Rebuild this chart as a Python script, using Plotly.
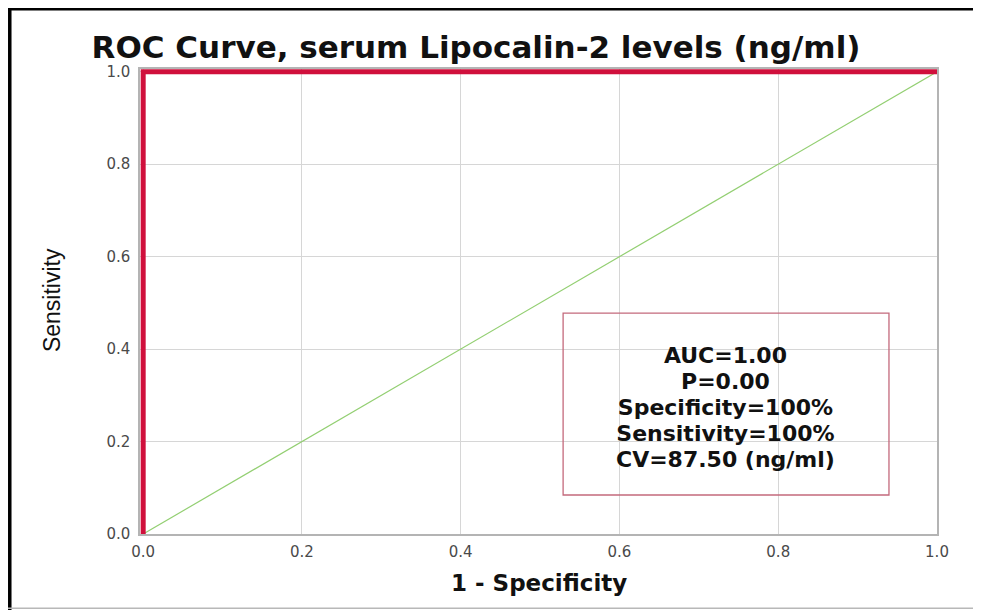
import plotly.graph_objects as go

# ---- data ----
roc_fpr = [0.0, 0.0, 1.0]
roc_tpr = [0.0, 1.0, 1.0]
ref_x = [0.0, 1.0]
ref_y = [0.0, 1.0]
tick_vals = [0.0, 0.2, 0.4, 0.6, 0.8, 1.0]
tick_text = ["0.0", "0.2", "0.4", "0.6", "0.8", "1.0"]
stats_lines = ["AUC=1.00", "P=0.00", "Specificity=100%", "Sensitivity=100%", "CV=87.50 (ng/ml)"]
title_text = "ROC Curve, serum Lipocalin-2 levels (ng/ml)"
x_title = "1 - Specificity"
y_title = "Sensitivity"

W, H = 973, 602  # page adds an 8px body margin

fig = go.Figure()
fig.add_trace(go.Scatter(x=ref_x, y=ref_y, mode="lines",
                         line=dict(color="#93cf72", width=1.2), showlegend=False,
                         hoverinfo="skip"))
fig.add_trace(go.Scatter(x=roc_fpr, y=roc_tpr, mode="lines",
                         line=dict(color="#d0103c", width=5), showlegend=False))

tickfont = dict(family="DejaVu Sans", size=15, color="#4a4a4a")
fig.update_xaxes(range=[-0.004, 1.0], tickvals=tick_vals, ticktext=tick_text,
                 showgrid=True, gridcolor="#d6d6d6", gridwidth=1, zeroline=False,
                 showline=True, linecolor="#b4b4b4", linewidth=1.5, mirror=True,
                 ticks="", tickfont=tickfont, ticklabelstandoff=3)
fig.update_yaxes(range=[0.0, 1.006], tickvals=tick_vals, ticktext=tick_text,
                 showgrid=True, gridcolor="#d6d6d6", gridwidth=1, zeroline=False,
                 showline=True, linecolor="#b4b4b4", linewidth=1.5, mirror=True,
                 ticks="", tickfont=tickfont, ticklabelstandoff=5)

shapes = [
    # stats box
    dict(type="rect", xref="x", yref="y", x0=0.529, x1=0.9395, y0=0.0844, y1=0.478,
         line=dict(color="#c46a7c", width=1.3), fillcolor="rgba(0,0,0,0)", layer="above"),
    # outer frame: left black bar, top black line, bottom grey line
    dict(type="rect", xref="paper", yref="paper", x0=-0.1656, x1=-0.1612, y0=-0.25, y1=1.25,
         line=dict(width=0), fillcolor="#000000"),
    dict(type="rect", xref="paper", yref="paper", x0=-0.1656, x1=1.3, y0=1.1258, y1=1.1312,
         line=dict(width=0), fillcolor="#000000"),
    dict(type="rect", xref="paper", yref="paper", x0=-0.1656, x1=1.3, y0=-0.1613, y1=-0.1580,
         line=dict(width=0), fillcolor="#b8b8b8"),
]

annotations = [
    dict(x=0.733, y=0.2727, xref="x", yref="y",
         text="<br>".join('<span style="font-size:22px"><b>%s</b></span>' % s
                          for s in stats_lines),
         showarrow=False, xanchor="center", yanchor="middle", align="center",
         font=dict(family="DejaVu Sans", size=20, color="#111111")),
    dict(x=0.5006, y=-0.1054, xref="paper", yref="paper",
         text="<b>%s</b>" % x_title, showarrow=False,
         xanchor="center", yanchor="middle",
         font=dict(family="DejaVu Sans", size=23, color="#111111")),
    dict(x=-0.1104, y=0.503, xref="paper", yref="paper",
         text=y_title, textangle=-90, showarrow=False,
         xanchor="center", yanchor="middle",
         font=dict(family="Liberation Sans Narrow, Liberation Sans", size=23,
                   color="#111111")),
]

fig.update_layout(
    width=W, height=H,
    margin=dict(l=132, r=44, t=61, b=76),
    paper_bgcolor="white", plot_bgcolor="white",
    title=dict(text="<b>%s</b>" % title_text, x=0.481, xref="container", xanchor="center",
               y=1 - 39 / H, yref="container", yanchor="middle",
               font=dict(family="DejaVu Sans", size=31, color="#111111")),
    shapes=shapes, annotations=annotations,
)

fig.write_html("out.html")
